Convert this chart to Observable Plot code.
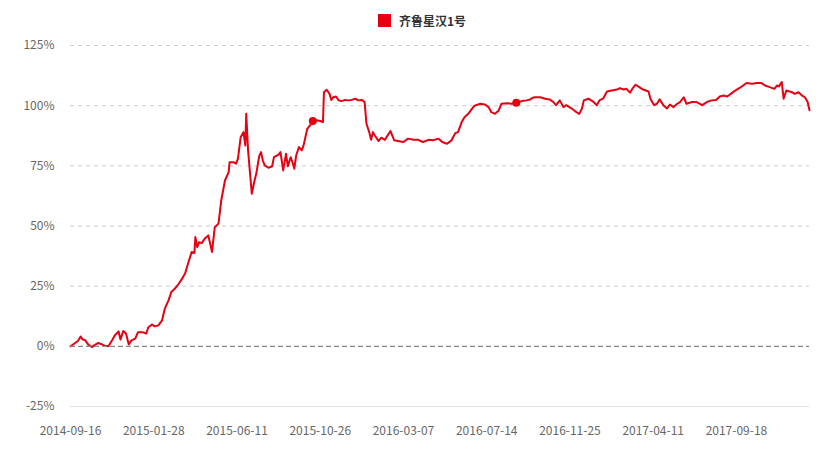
<!DOCTYPE html>
<html><head><meta charset="utf-8">
<script src="https://cdn.jsdelivr.net/npm/d3@7"></script>
<script src="https://cdn.jsdelivr.net/npm/@observablehq/plot@0.6"></script>
<style>
body{margin:0;background:#fff;}
#wrap{position:relative;width:833px;height:449px;font-family:"Noto Sans CJK SC","Noto Sans",sans-serif;}
#legend{position:absolute;top:12px;left:378px;display:flex;align-items:center;font-size:12px;color:#333;font-weight:bold;}
#legend .sw{display:inline-block;width:13px;height:13px;background:#e60012;margin-right:8px;}
#chart{position:absolute;top:0;left:0;}
</style></head><body>
<div id="wrap"><div id="chart"></div><div id="legend"><span class="sw"></span><span id="lname"></span></div></div>
<script>
const seriesName = "齐鲁星汉1号";
const dayIndex = [0,5,8,11,13,16,19,23,26,30,34,37,41,45,48,52,54,57,60,63,66,70,73,78,82,84,88,91,95,99,
102,106,109,113,117,120,124,127,131,134,135,137,139,142,145,149,153,156,160,163,167,171,172,176,179,181,184,187,189,190,
192,196,199,201,204,206,208,210,214,218,220,225,227,230,233,235,238,240,242,244,247,250,252,256,259,262,266,270,273,274,
277,280,282,284,287,290,293,297,300,304,308,311,315,318,320,323,325,327,329,333,336,340,344,346,350,354,360,365,371,376,
381,387,392,398,402,407,412,416,419,423,426,430,434,437,443,448,452,455,459,463,466,472,477,482,488,493,497,500,502,508,
513,518,522,525,529,533,536,542,547,550,553,555,560,565,569,572,576,580,585,591,594,598,601,605,608,611,615,619,625,627,
631,634,637,641,645,648,652,656,659,663,666,672,677,683,688,693,698,702,706,710,715,720,726,731,737,742,747,751,756,761,
764,766,769,771,774,780,783,787,791,794,797,799];
const returnPct = [0,1.4,2.2,4.1,2.9,2.5,0.8,-0.3,0.5,1.4,0.8,0.3,0,2.5,4.6,6.2,2.8,6.4,5.3,0.8,2.5,3.2,5.9,5.9,5.3,7.8,9.1,8.3,8.7,10.8,
15.7,19.1,22.6,24,26,27.7,30.4,34.3,39.2,38.8,45.4,41.2,43.3,42.9,44.7,46.1,39.2,49.5,51,60.6,68.9,72.4,76.5,76.5,75.9,77.9,86.9,89,83.5,96.6,
81.4,63.4,68.9,72,79,80.7,77.2,75.2,74.2,74.8,78.6,79.7,80.7,73.1,80,74.8,78.6,76.5,73.8,79.3,82.8,81.4,83.5,90.4,91.8,93.6,93.9,93.6,93.2,105.6,
106.6,105,102.4,103.5,103.8,102.2,101.9,102.4,102.2,102.4,102.9,102.2,102.4,101.5,92.5,89,85.8,89,87.6,85.3,86.7,85.8,88.3,89.4,85.6,85.3,84.9,86.3,85.8,85.8,
84.9,85.8,85.6,86.3,84.9,84.2,85.6,88.6,89,93.2,95.2,96.6,98.7,100,100.8,100.5,99.4,97.3,96.6,98,100.8,101,100.8,101.2,101.9,102.2,102.6,103.3,103.5,103.5,
102.9,102.6,101.5,100.2,102.2,99.4,100.2,98.8,97.3,96.6,98.8,102.2,102.9,101.7,100.2,102.2,103,105.9,106.3,106.7,107.3,106.7,107,105.4,107.3,108.7,107.7,106.7,105.9,102.9,
100.2,100.8,102.6,100.2,98.8,100.5,99.4,100.8,101.5,103.5,100.8,101.5,101.5,100.2,101.5,102.2,102.4,103.8,104.2,103.8,105.2,106.6,108,109.4,109.1,109.4,109.4,108.4,107.7,107,
108.4,108,109.8,102.9,106.3,105.6,104.9,105.6,104.2,103.5,101.5,98.1];
const tickIndex = [0,90,180,270,360,450,540,630,720];
const tickLabels = ["2014-09-16","2015-01-28","2015-06-11","2015-10-26","2016-03-07","2016-07-14","2016-11-25","2017-04-11","2017-09-18"];
const yTicks = [-25,0,25,50,75,100,125];
const gridValues = [25,50,75,100,125];
const markIndex = [262,482];

document.getElementById("lname").textContent = seriesName;
const data = dayIndex.map((d,i)=>({i:d, v:returnPct[i]}));
const marks = data.filter(d=>markIndex.includes(d.i));
const labelOf = new Map(tickIndex.map((t,k)=>[t,tickLabels[k]]));

const chart = Plot.plot({
  width: 833, height: 449,
  marginLeft: 70, marginRight: 24, marginTop: 45, marginBottom: 43,
  style: {fontFamily: '"Noto Sans CJK SC","Noto Sans",sans-serif', fontSize: "12px", color: "#666", background: "#fff"},
  x: {type: "linear", domain: [0, 799]},
  y: {domain: [-25, 125]},
  marks: [
    Plot.ruleY(gridValues, {stroke: "#ccc", strokeDasharray: "4,4", strokeWidth: 1}),
    Plot.ruleY([-25], {stroke: "#e0e0e0", strokeWidth: 1}),
    Plot.axisY({ticks: yTicks, tickSize: 0, tickPadding: 16, tickFormat: d => d + "%", fill: "#666", label: null}),
    Plot.axisX({ticks: tickIndex, tickSize: 0, tickPadding: 20, tickFormat: d => labelOf.get(d), fill: "#666", label: null}),
    Plot.lineY(data, {x: "i", y: "v", stroke: "#e60012", strokeWidth: 2, curve: "linear"}),
    Plot.ruleY([0], {stroke: "#888", strokeDasharray: "5,3", strokeWidth: 1.2}),
    Plot.dot(marks, {x: "i", y: "v", r: 4, fill: "#e60012"})
  ]
});
document.getElementById("chart").appendChild(chart);
</script>
</body></html>
